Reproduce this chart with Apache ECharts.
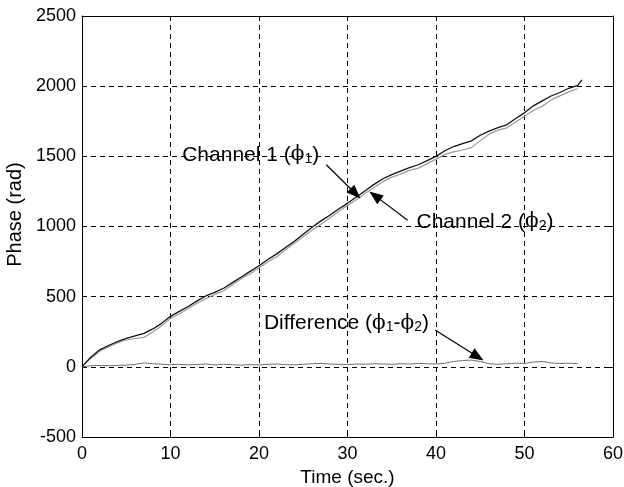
<!DOCTYPE html>
<html>
<head>
<meta charset="utf-8">
<script src="https://cdn.jsdelivr.net/npm/echarts@6/dist/echarts.min.js"></script>
<style>
  html, body { margin: 0; padding: 0; background: #fff; }
  #chart { width: 624px; height: 487px; }
</style>
</head>
<body>
<div id="chart"></div>
<script>
// Time axis samples (s)
var time = [0, 0.5, 1, 2, 3, 4, 5, 6, 7, 8, 9, 10, 11, 12, 13, 14, 15, 16, 17, 18, 19,
  20, 21, 22, 23, 24, 25, 26, 27, 28, 29, 30, 31, 32, 33, 34, 35, 36, 37, 38, 39,
  40, 41, 42, 43, 44, 45, 46, 47, 48, 49, 50, 51, 52, 53, 54, 55, 56, 56.5];

// Channel 1 phase (rad)
var channel1 = [0, 35, 68, 121, 152, 180, 203, 220, 238, 270, 310, 360, 395, 430, 470, 505, 530, 560, 600, 640, 680,
  720, 765, 805, 850, 895, 945, 995, 1040, 1080, 1125, 1165, 1210, 1255, 1300, 1340, 1370, 1395, 1420, 1440, 1470,
  1500, 1540, 1570, 1590, 1610, 1650, 1680, 1705, 1725, 1770, 1810, 1860, 1895, 1930, 1955, 1985, 2005, 2045];

// Channel 2 phase (rad)
var channel2 = [0, 32, 60, 111, 144, 170, 191, 202, 210, 248, 292, 345, 377, 416, 454, 485, 516, 542, 585, 628, 664,
  706, 747, 785, 834, 881, 927, 973, 1016, 1060, 1107, 1149, 1190, 1237, 1278, 1320, 1352, 1373, 1400, 1416, 1448,
  1480, 1514, 1532, 1545, 1562, 1612, 1658, 1687, 1703, 1744, 1786, 1826, 1857, 1902, 1931, 1959, 1982, null];

// Phase difference (rad)
var difference = [0, 3, 8, 10, 8, 10, 12, 18, 28, 22, 18, 15, 18, 14, 16, 20, 14, 18, 15, 12, 16,
  14, 18, 20, 16, 14, 18, 22, 24, 20, 18, 16, 20, 18, 22, 20, 18, 22, 20, 24, 22,
  20, 26, 38, 45, 48, 38, 22, 18, 22, 26, 24, 34, 38, 28, 24, 26, 23, null];

var xTicks = { min: 0, max: 60, interval: 10 };
var yTicks = { min: -500, max: 2500, interval: 500 };

// Annotation anchors in data units: [time, phase]
var labelCh1 = { at: [26.8, 1510] };
var labelCh2 = { at: [37.8, 1030] };
var labelDiff = { at: [39.2, 310] };
var arrowCh1 = [[27.6, 1440], [30.9, 1235]];
var arrowCh2 = [[36.8, 1045], [33.1, 1220]];
var arrowDiff = [[39.9, 262], [44.7, 72]];

function pairs(ys) {
  var out = [];
  for (var i = 0; i < time.length; i++) {
    if (ys[i] !== null && ys[i] !== undefined) out.push([time[i], ys[i]]);
  }
  return out;
}

var FONT = 'Liberation Sans, Arial, Helvetica, sans-serif';
var chart = echarts.init(document.getElementById('chart'), null, { renderer: 'canvas' });

var dash = { color: '#000', width: 1, type: [5, 4] };
var plainNumber = function (v) { return String(v); };

function arrowLine(seg) {
  return [{ coord: seg[0] }, { coord: seg[1] }];
}

function boxAxis(base, pos) {
  return Object.assign({
    type: 'value', position: pos, gridIndex: 0,
    axisLine: { show: true, onZero: false, lineStyle: { color: '#000', width: 1 } },
    axisTick: { show: true, inside: true, length: 5, lineStyle: { color: '#000' } },
    axisLabel: { show: false },
    splitLine: { show: false }
  }, base);
}

chart.setOption({
  animation: false,
  backgroundColor: '#fff',
  grid: { left: 82, right: 11, top: 16, bottom: 50, containLabel: false, outerBoundsMode: 'none' },
  xAxis: [
    {
      type: 'value', min: xTicks.min, max: xTicks.max, interval: xTicks.interval, position: 'bottom',
      name: 'Time (sec.)', nameLocation: 'middle', nameGap: 31,
      nameTextStyle: { fontFamily: FONT, fontSize: 19, color: '#000' },
      axisLine: { onZero: false, lineStyle: { color: '#000', width: 1 } },
      axisTick: { inside: true, length: 5, lineStyle: { color: '#000' } },
      axisLabel: { fontFamily: FONT, fontSize: 18, color: '#000', margin: 8, formatter: plainNumber },
      splitLine: { show: true, lineStyle: dash }
    },
    boxAxis({ min: xTicks.min, max: xTicks.max, interval: xTicks.interval }, 'top')
  ],
  yAxis: [
    {
      type: 'value', min: yTicks.min, max: yTicks.max, interval: yTicks.interval, position: 'left',
      name: 'Phase (rad)', nameLocation: 'middle', nameGap: 56, nameRotate: 90,
      nameTextStyle: { fontFamily: FONT, fontSize: 20, color: '#000', padding: [0, 0, 0, 24] },
      axisLine: { show: true, onZero: false, lineStyle: { color: '#000', width: 1 } },
      axisTick: { inside: true, length: 5, lineStyle: { color: '#000' } },
      axisLabel: { fontFamily: FONT, fontSize: 18, color: '#000', margin: 6, formatter: plainNumber },
      splitLine: { show: true, lineStyle: dash }
    },
    boxAxis({ min: yTicks.min, max: yTicks.max, interval: yTicks.interval }, 'right')
  ],
  series: [
    {
      name: 'Channel 2', type: 'line', data: pairs(channel2), symbol: 'none',
      lineStyle: { color: '#9a9a9a', width: 1.2 }, z: 3
    },
    {
      name: 'Channel 1', type: 'line', data: pairs(channel1), symbol: 'none',
      lineStyle: { color: '#111', width: 1.3 }, z: 4,
      markLine: {
        silent: true, symbol: ['none', 'triangle'], symbolSize: [11, 14],
        lineStyle: { color: '#000', width: 1.2, type: 'solid' },
        label: { show: false },
        data: [arrowLine(arrowCh1), arrowLine(arrowCh2), arrowLine(arrowDiff)]
      }
    },
    {
      name: 'Difference', type: 'line', data: pairs(difference), symbol: 'none',
      lineStyle: { color: '#6e6e6e', width: 1 }, z: 3
    }
  ]
});

function textAt(at, rich, align) {
  var p = chart.convertToPixel({ xAxisIndex: 0, yAxisIndex: 0 }, at);
  return {
    type: 'text', x: p[0], y: p[1], z: 10,
    style: {
      text: rich, align: align, verticalAlign: 'middle',
      font: '21px ' + FONT, fill: '#000',
      rich: {
        phi: { fontFamily: 'DejaVu Serif, serif', fontSize: 20, fill: '#000' },
        sub: { fontFamily: FONT, fontSize: 14, fill: '#000', verticalAlign: 'bottom', padding: [8, 0, 0, 0] },
        t: { fontFamily: FONT, fontSize: 21, fill: '#000' }
      }
    }
  };
}

chart.setOption({
  graphic: [
    textAt(labelCh1.at, '{t|Channel 1 (}{phi|ϕ}{sub|1}{t|)}', 'right'),
    textAt(labelCh2.at, '{t|Channel 2 (}{phi|ϕ}{sub|2}{t|)}', 'left'),
    textAt(labelDiff.at, '{t|Difference (}{phi|ϕ}{sub|1}{t|-}{phi|ϕ}{sub|2}{t|)}', 'right')
  ]
});
</script>
</body>
</html>
